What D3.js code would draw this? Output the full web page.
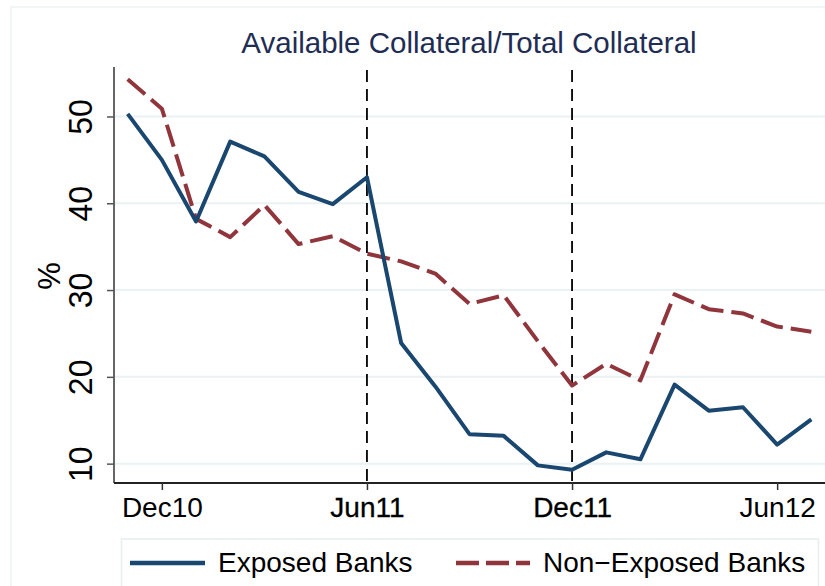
<!DOCTYPE html>
<html>
<head>
<meta charset="utf-8">
<script src="https://cdn.jsdelivr.net/npm/d3@7"></script>
<style>
  body { margin: 0; background: #fff; }
  #chart { width: 825px; height: 586px; overflow: hidden; }
  text { font-family: "Liberation Sans", Arial, Helvetica, sans-serif; }
</style>
</head>
<body>
<div id="chart"></div>
<script>
(function () {

// data, monthly from Nov10 to Jul12
var months = ['Nov10', 'Dec10', 'Jan11', 'Feb11', 'Mar11', 'Apr11', 'May11', 'Jun11',
  'Jul11', 'Aug11', 'Sep11', 'Oct11', 'Nov11', 'Dec11', 'Jan12', 'Feb12', 'Mar12',
  'Apr12', 'May12', 'Jun12', 'Jul12'];

var exposed = [50.3, 45.0, 37.9, 47.1, 45.4, 41.3, 39.9, 43.0, 23.9, 18.9, 13.4,
  13.2, 9.8, 9.3, 11.3, 10.5, 19.1, 16.1, 16.5, 12.2, 15.1];

var nonExposed = [54.3, 50.9, 38.2, 36.1, 39.8, 35.3, 36.2, 34.2, 33.3, 31.9, 28.4,
  29.4, 24.1, 19.0, 21.5, 19.6, 29.5, 27.8, 27.3, 25.8, 25.2];

var xTickLabels = ['Dec10', 'Jun11', 'Dec11', 'Jun12'];
var eventMonths = ['Jun11', 'Dec11'];
var yTicks = [10, 20, 30, 40, 50];

var seriesNames = ['Exposed Banks', 'Non\u2212Exposed Banks'];

var width = 825, height = 586;
var margin = {top: 67, left: 114, right: 0, bottom: 103};

var blue = '#1a476f', red = '#90353b';

var svg = d3.select('#chart')
  .append('svg')
  .attr('width', width)
  .attr('height', height);

// faint outer frame of the graph region
svg.append('rect')
  .attr('x', 11).attr('y', 7)
  .attr('width', 900).attr('height', 700)
  .attr('fill', 'none')
  .attr('stroke', '#eef2f3')
  .attr('stroke-width', 1.5);

var xScale = d3.scaleLinear()
  .domain([-0.4, months.length - 1 + 0.4])
  .range([margin.left, width - margin.right]);

var yScale = d3.scaleLinear()
  .domain([7.77, 55.7])
  .range([height - margin.bottom, margin.top]);

// gridlines
svg.append('g')
  .selectAll('line')
  .data(yTicks)
  .enter().append('line')
  .attr('x1', margin.left)
  .attr('x2', width)
  .attr('y1', function (d) { return yScale(d); })
  .attr('y2', function (d) { return yScale(d); })
  .attr('stroke', '#eaf2f3')
  .attr('stroke-width', 2);

// vertical event lines
svg.append('g')
  .selectAll('line')
  .data(eventMonths)
  .enter().append('line')
  .attr('x1', function (d) { return xScale(months.indexOf(d)); })
  .attr('x2', function (d) { return xScale(months.indexOf(d)); })
  .attr('y1', 70)
  .attr('y2', height - margin.bottom)
  .attr('stroke', '#000')
  .attr('stroke-width', 1.8)
  .attr('stroke-dasharray', '12,7');

// y axis
var yAxis = svg.append('g')
  .attr('transform', 'translate(' + margin.left + ',0)')
  .call(d3.axisLeft(yScale).tickValues(yTicks).tickSize(7).tickPadding(0).tickFormat(d3.format('d')));

yAxis.select('.domain')
  .attr('d', 'M0,' + margin.top + 'V' + (height - margin.bottom))
  .attr('stroke', '#555')
  .attr('stroke-width', 1.8);

yAxis.selectAll('.tick line').attr('stroke', '#555').attr('stroke-width', 1.5);

yAxis.selectAll('.tick text')
  .attr('x', null).attr('dy', null)
  .attr('transform', 'translate(-22,0) rotate(-90) scale(1,1.06)')
  .attr('text-anchor', 'middle')
  .attr('font-size', 32)
  .attr('fill', '#000');

// x axis
var xAxis = svg.append('g')
  .attr('transform', 'translate(0,' + (height - margin.bottom) + ')')
  .call(d3.axisBottom(xScale)
    .tickValues(xTickLabels.map(function (d) { return months.indexOf(d); }))
    .tickFormat(function (d) { return months[d]; })
    .tickSize(7).tickPadding(5));

xAxis.select('.domain')
  .attr('d', 'M' + margin.left + ',0H' + width)
  .attr('stroke', '#222')
  .attr('stroke-width', 1.8);

xAxis.selectAll('.tick line').attr('stroke', '#333').attr('stroke-width', 1.5);

xAxis.selectAll('.tick text')
  .attr('dy', null)
  .attr('y', 34)
  .attr('font-size', 28)
  .attr('fill', '#000')
  // labels on the event lines look a little heavier in the original
  .attr('stroke', function (d) { return eventMonths.indexOf(months[d]) >= 0 ? '#000' : 'none'; })
  .attr('stroke-width', 0.3);

// axis title
svg.append('text')
  .attr('transform', 'translate(60,276) rotate(-90)')
  .attr('text-anchor', 'middle')
  .attr('font-size', 31)
  .attr('fill', '#000')
  .text('%');

// chart title
svg.append('text')
  .attr('x', 469)
  .attr('y', 53)
  .attr('text-anchor', 'middle')
  .attr('font-size', 29.5)
  .attr('fill', '#1f2d55')
  .text('Available Collateral/Total Collateral');

var lineGen = function (values) {
  return d3.line()
    .x(function (d, i) { return xScale(i); })
    .y(function (d) { return yScale(d); })(values);
};

svg.append('path')
  .attr('d', lineGen(nonExposed))
  .attr('fill', 'none')
  .attr('stroke', red)
  .attr('stroke-width', 4)
  .attr('stroke-dasharray', '23,8')
  .attr('stroke-linejoin', 'round');

svg.append('path')
  .attr('d', lineGen(exposed))
  .attr('fill', 'none')
  .attr('stroke', blue)
  .attr('stroke-width', 4)
  .attr('stroke-linejoin', 'round');

// legend
var legend = svg.append('g');

legend.append('rect')
  .attr('x', 121.5).attr('y', 539)
  .attr('width', 697).attr('height', 80)
  .attr('fill', '#fff')
  .attr('stroke', '#e6eef0')
  .attr('stroke-width', 1.5);

legend.append('line')
  .attr('x1', 130).attr('x2', 205)
  .attr('y1', 563).attr('y2', 563)
  .attr('stroke', blue)
  .attr('stroke-width', 4.5);

legend.append('text')
  .attr('x', 218).attr('y', 572)
  .attr('font-size', 28)
  .attr('fill', '#000')
  .text(seriesNames[0]);

legend.append('line')
  .attr('x1', 456).attr('x2', 530)
  .attr('y1', 563).attr('y2', 563)
  .attr('stroke', red)
  .attr('stroke-width', 4.5)
  .attr('stroke-dasharray', '23,7');

legend.append('text')
  .attr('x', 543).attr('y', 572)
  .attr('font-size', 28)
  .attr('fill', '#000')
  .text(seriesNames[1]);

})();
</script>
</body>
</html>
